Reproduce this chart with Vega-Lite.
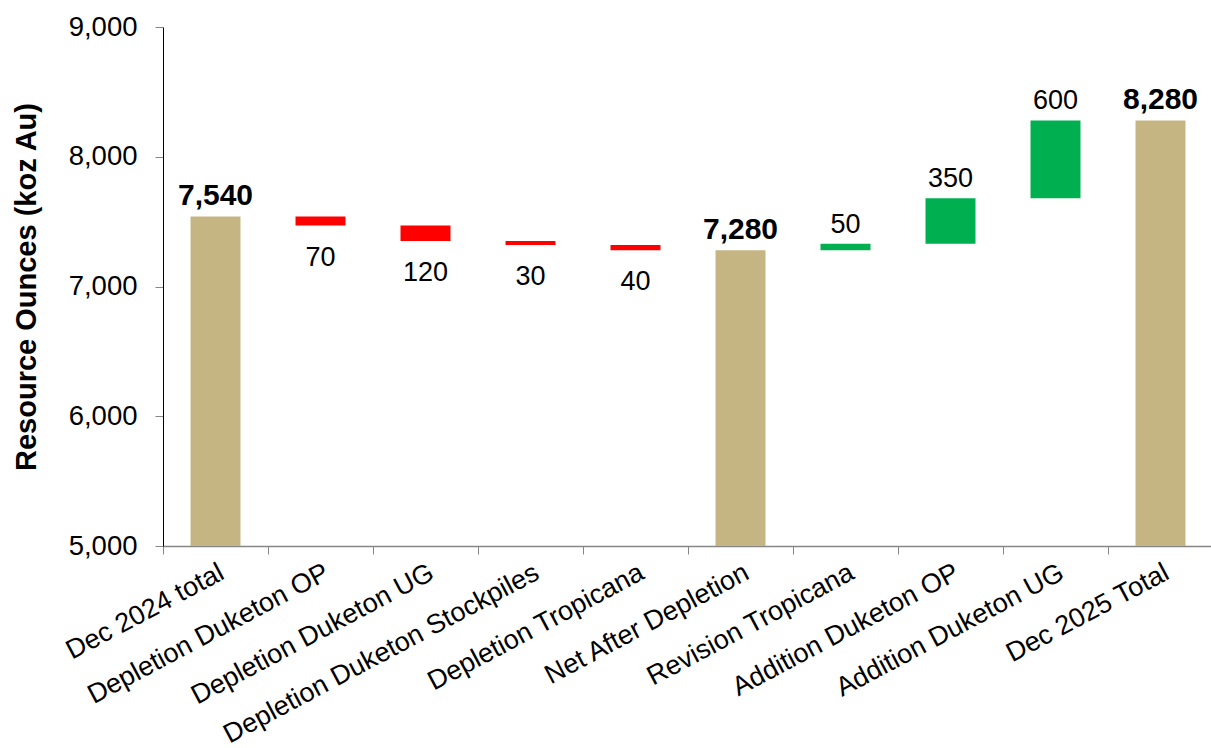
{
  "$schema": "https://vega.github.io/schema/vega-lite/v6.json",
  "width": 1050,
  "height": 519,
  "autosize": {"type": "none"},
  "padding": {"left": 163, "top": 27, "right": 0, "bottom": 202},
  "background": "white",
  "config": {
    "font": "Liberation Sans",
    "view": {"stroke": null},
    "axis": {"grid": false}
  },
  "data": {
    "values": [
      {"category": "Dec 2024 total", "start": 5000, "end": 7540, "type": "total", "label": "7,540"},
      {"category": "Depletion Duketon OP", "start": 7540, "end": 7470, "type": "decrease", "label": "70"},
      {"category": "Depletion Duketon UG", "start": 7470, "end": 7350, "type": "decrease", "label": "120"},
      {"category": "Depletion Duketon Stockpiles", "start": 7350, "end": 7320, "type": "decrease", "label": "30"},
      {"category": "Depletion Tropicana", "start": 7320, "end": 7280, "type": "decrease", "label": "40"},
      {"category": "Net After Depletion", "start": 5000, "end": 7280, "type": "total", "label": "7,280"},
      {"category": "Revision Tropicana", "start": 7280, "end": 7330, "type": "increase", "label": "50"},
      {"category": "Addition Duketon OP", "start": 7330, "end": 7680, "type": "increase", "label": "350"},
      {"category": "Addition Duketon UG", "start": 7680, "end": 8280, "type": "increase", "label": "600"},
      {"category": "Dec 2025 Total", "start": 5000, "end": 8280, "type": "total", "label": "8,280"}
    ]
  },
  "encoding": {
    "x": {
      "field": "category",
      "type": "nominal",
      "sort": null,
      "scale": {"paddingInner": 0, "paddingOuter": 0},
      "axis": {
        "title": null,
        "labelAngle": -28,
        "labelFontSize": 27,
        "labelColor": "#000000",
        "labelPadding": 5,
        "tickBand": "extent",
        "tickSize": 8,
        "tickColor": "#868686",
        "domainColor": "#868686",
        "domainWidth": 1.5,
        "labelLimit": 400
      }
    }
  },
  "layer": [
    {
      "mark": {"type": "bar", "clip": true, "width": {"band": 0.476}},
      "encoding": {
        "y": {
          "field": "start",
          "type": "quantitative",
          "scale": {"domain": [5000, 9000], "nice": false, "zero": false},
          "axis": {
            "title": "Resource Ounces (koz Au)",
            "titleFontSize": 29,
            "titleFontWeight": "bold",
            "titleColor": "#000000",
            "titlePadding": 27,
            "values": [5000, 6000, 7000, 8000, 9000],
            "format": ",d",
            "labelFontSize": 27.5,
            "labelColor": "#000000",
            "labelPadding": 18,
            "tickSize": 8,
            "tickColor": "#868686",
            "domainColor": "#000000",
            "domainWidth": 1
          }
        },
        "y2": {"field": "end"},
        "color": {
          "field": "type",
          "type": "nominal",
          "scale": {"domain": ["total", "decrease", "increase"], "range": ["#C4B583", "#FF0000", "#00B050"]},
          "legend": null
        }
      }
    },
    {
      "transform": [{"filter": "datum.type === 'total'"}],
      "mark": {"type": "text", "baseline": "alphabetic", "dy": -11, "fontSize": 30, "fontWeight": "bold", "color": "#000000"},
      "encoding": {
        "y": {"field": "end", "type": "quantitative"},
        "text": {"field": "label"}
      }
    },
    {
      "transform": [{"filter": "datum.type === 'increase'"}],
      "mark": {"type": "text", "baseline": "alphabetic", "dy": -11, "fontSize": 27, "color": "#000000"},
      "encoding": {
        "y": {"field": "end", "type": "quantitative"},
        "text": {"field": "label"}
      }
    },
    {
      "transform": [{"filter": "datum.type === 'decrease'"}],
      "mark": {"type": "text", "baseline": "alphabetic", "dy": 40, "fontSize": 27, "color": "#000000"},
      "encoding": {
        "y": {"field": "end", "type": "quantitative"},
        "text": {"field": "label"}
      }
    }
  ]
}
